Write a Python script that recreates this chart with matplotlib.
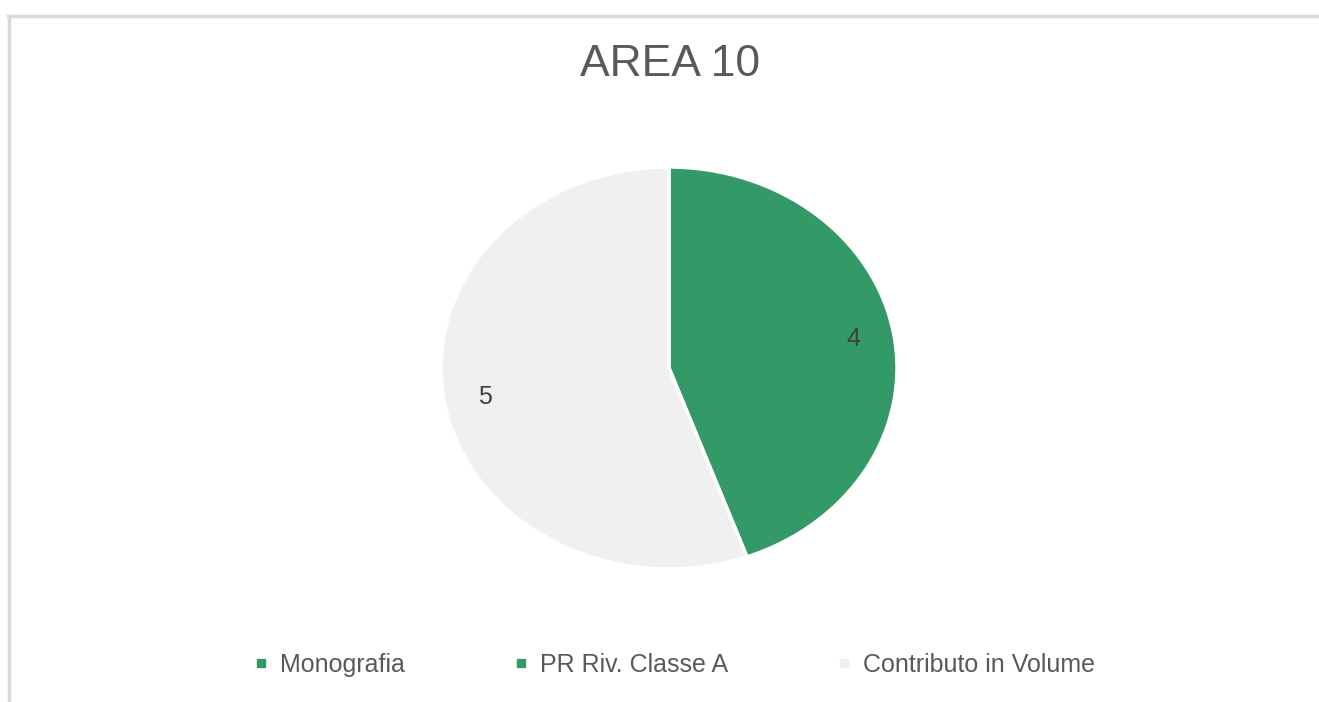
import matplotlib.pyplot as plt
from matplotlib.lines import Line2D

plt.rcParams['font.family'] = ['Liberation Sans', 'DejaVu Sans']

# Data
categories = ['Monografia', 'PR Riv. Classe A', 'Contributo in Volume']
values = [0, 4, 5]
colors = ['#339966', '#339966', '#F0F0F0']
title = 'AREA 10'

fig = plt.figure(figsize=(13.19, 7.02), dpi=100)

# light frame like the original chart border
fig.add_artist(Line2D([7.5 / 1319, 1], [1 - 15.5 / 702, 1 - 15.5 / 702],
                      transform=fig.transFigure, color='#D9D9D9', lw=2.5))
fig.add_artist(Line2D([8.5 / 1319, 8.5 / 1319], [0, 1 - 15.5 / 702],
                      transform=fig.transFigure, color='#D9D9D9', lw=2.5))

# axes placed so the pie fills the same (slightly stretched) ellipse
ax = fig.add_axes([441 / 1319, 133 / 702, 456 / 1319, 402 / 702])


def fmt(pct):
    v = pct * sum(values) / 100
    return '' if v < 0.5 else f'{v:.0f}'


wedges, texts, autotexts = ax.pie(
    values, colors=colors, startangle=90, counterclock=False,
    autopct=fmt, pctdistance=0.82,
    wedgeprops=dict(edgecolor='white', linewidth=2.5),
    textprops=dict(fontsize=18, color='#404040'))
ax.set_aspect('auto')
ax.set_xlim(-1, 1)
ax.set_ylim(-1, 1)

fig.text(670 / 1319, 1 - 65 / 702, title, ha='center', va='center',
         fontsize=32, color='#595959')

handles = [Line2D([], [], marker='s', linestyle='none', markersize=6,
                  markerfacecolor=c, markeredgecolor=c) for c in colors]
fig.legend(handles, categories, loc='center', bbox_to_anchor=(675 / 1319, 1 - 665 / 702),
           ncol=3, frameon=False, fontsize=18, labelcolor='#595959',
           handlelength=0.5, handletextpad=0.5, columnspacing=4.4)

fig.savefig('out.png', dpi=100)
